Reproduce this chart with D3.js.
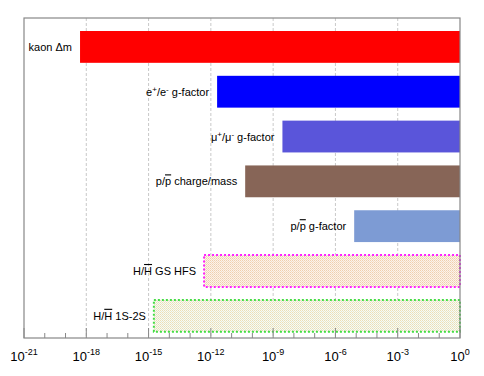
<!DOCTYPE html>
<html>
<head>
<meta charset="utf-8">
<script src="https://cdn.jsdelivr.net/npm/d3@7/dist/d3.min.js"></script>
<style>
  body { margin: 0; background: #fff; }
  text { font-family: "Liberation Sans", Arial, sans-serif; fill: #000; }
</style>
</head>
<body>
<div id="chart"></div>
<script>
// measurement names (\u0304 = overline on the previous letter, ⁺/⁻ = superscripts)
var categories = [
    'kaon \u0394m',
    'e⁺/e⁻ g-factor',
    '\u03bc⁺/\u03bc⁻ g-factor',
    'p/p\u0304 charge/mass',
    'p/p\u0304 g-factor',
    'H/H\u0304 GS HFS',
    'H/H\u0304 1S-2S'
];
// lower end of each bar (relative precision), bars run up to 1
var lowValues = [5e-19, 2e-12, 2.8e-9, 4.5e-11, 8e-6, 4.7e-13, 1.8e-15];
var highValue = 1;
var barColors = ['#ff0000', '#0000ff', '#5a55da', '#876557', '#7d9bd4', null, null];
var tickExponents = [-21, -18, -15, -12, -9, -6, -3, 0];

(function () {

    var W = 484, H = 376;
    var left = 24, right = 460, top = 18, bottom = 338;

    var svg = d3.select('#chart').append('svg')
        .attr('width', W)
        .attr('height', H);

    var defs = svg.append('defs');
    function dotPattern(id, bg, c1, c2) {
        var p = defs.append('pattern')
            .attr('id', id)
            .attr('width', 2).attr('height', 2)
            .attr('patternUnits', 'userSpaceOnUse');
        p.append('rect').attr('width', 2).attr('height', 2).attr('fill', bg);
        p.append('rect').attr('x', 0).attr('y', 0).attr('width', 1).attr('height', 1).attr('fill', c1);
        p.append('rect').attr('x', 1).attr('y', 1).attr('width', 1).attr('height', 1).attr('fill', c2);
    }
    dotPattern('hatchHfs', '#fcf3ea', '#efcfae', '#f4dcc4');
    dotPattern('hatch1s2s', '#fbfaf2', '#e9dfb8', '#e4e8cf');

    var x = d3.scaleLog()
        .domain([1e-21, 1])
        .range([left, right]);

    var y = d3.scaleBand()
        .domain(categories)
        .range([31, 331.7])
        .paddingInner(0.29)
        .paddingOuter(0);

    // grid
    svg.append('g')
        .selectAll('line')
        .data(tickExponents.slice(1, -1))
        .enter()
        .append('line')
        .attr('x1', function (e) { return x(Math.pow(10, e)); })
        .attr('x2', function (e) { return x(Math.pow(10, e)); })
        .attr('y1', top)
        .attr('y2', bottom)
        .attr('stroke', '#bbb')
        .attr('stroke-width', 0.8)
        .attr('stroke-dasharray', '3,2');

    // bars
    svg.append('g')
        .selectAll('rect')
        .data(categories)
        .enter()
        .append('rect')
        .attr('x', function (d, i) { return x(lowValues[i]); })
        .attr('y', function (d) { return y(d); })
        .attr('width', function (d, i) { return x(highValue) - x(lowValues[i]); })
        .attr('height', y.bandwidth())
        .attr('fill', function (d, i) {
            if (i === 5) return 'url(#hatchHfs)';
            if (i === 6) return 'url(#hatch1s2s)';
            return barColors[i];
        })
        .attr('stroke', function (d, i) {
            if (i === 5) return '#ff22ff';
            if (i === 6) return '#44dd44';
            return 'none';
        })
        .attr('stroke-width', 2)
        .attr('stroke-dasharray', function (d, i) { return i >= 5 ? '2,2' : null; });

    // labels
    var sup = { '⁺': '+', '⁻': '-' };
    var labels = svg.append('g')
        .selectAll('text')
        .data(categories)
        .enter()
        .append('text')
        .attr('x', function (d, i) { return x(lowValues[i]) - 8; })
        .attr('y', function (d) { return y(d) + y.bandwidth() / 2 + 4; })
        .attr('text-anchor', 'end')
        .style('font-size', '11px');

    labels.each(function (d) {
        var t = d3.select(this);
        var chars = Array.from(d);
        var buf = '';
        var pendingDy = 0;
        function add(str) {
            var s = t.append('tspan').text(str);
            if (pendingDy) { s.attr('dy', pendingDy); pendingDy = 0; }
            return s;
        }
        function flush() {
            if (buf) { add(buf); buf = ''; }
        }
        for (var k = 0; k < chars.length; k++) {
            var c = chars[k];
            if (chars[k + 1] === '\u0304') {
                flush();
                add(c).style('text-decoration', 'overline');
                k++;
            } else if (sup[c]) {
                flush();
                add(sup[c])
                    .attr('dy', -4)
                    .style('font-size', '8px');
                pendingDy = 4;
            } else {
                buf += c;
            }
        }
        flush();
    });

    // frame
    svg.append('rect')
        .attr('x', left).attr('y', top)
        .attr('width', right - left).attr('height', bottom - top)
        .attr('fill', 'none')
        .attr('stroke', '#888')
        .attr('stroke-width', 1.2);

    // ticks every decade, pointing in
    var decades = d3.range(-21, 1);
    svg.append('g')
        .selectAll('line')
        .data(decades)
        .enter()
        .append('line')
        .attr('x1', function (e) { return x(Math.pow(10, e)); })
        .attr('x2', function (e) { return x(Math.pow(10, e)); })
        .attr('y1', bottom)
        .attr('y2', function (e) { return bottom - (e % 3 === 0 ? 10 : 5); })
        .attr('stroke', '#888')
        .attr('stroke-width', 1);

    // tick labels
    var tl = svg.append('g')
        .selectAll('text')
        .data(tickExponents)
        .enter()
        .append('text')
        .attr('x', function (e) { return x(Math.pow(10, e)); })
        .attr('y', 361)
        .attr('text-anchor', 'middle')
        .style('font-size', '13px');
    tl.append('tspan').text('10');
    tl.append('tspan')
        .text(function (e) { return e; })
        .attr('dy', -6)
        .style('font-size', '9px');

})();
</script>
</body>
</html>
